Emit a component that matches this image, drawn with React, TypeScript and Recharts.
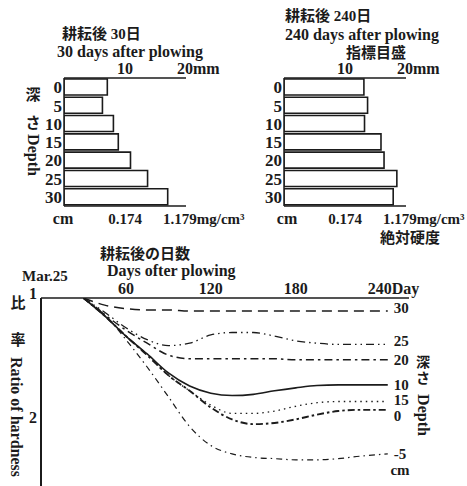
import React from "react";
import { BarChart, Bar, LineChart, Line, XAxis, YAxis } from "recharts";

// penetration (mm) by depth
const depths = ["0", "5", "10", "15", "20", "25", "30"];
const penetration30 = [7.1, 6.3, 8.1, 8.9, 10.9, 13.7, 17.0];
const penetration240 = [13.1, 13.7, 13.2, 15.9, 16.4, 18.5, 17.9];
const scaleTicks = [10, 20];
const scaleTopLabels = ["10", "20mm"];
const scaleBottomLabels = ["0.174", "1.179mg/cm³"];

// ratio of hardness vs days after plowing, one array per depth
const days = [30, 45, 60, 75, 90, 105, 120, 135, 150, 165, 180, 195, 210, 225, 245];
const ratio30 = [1.0, 1.06, 1.09, 1.1, 1.1, 1.11, 1.11, 1.11, 1.11, 1.11, 1.11, 1.11, 1.11, 1.11, 1.11];
const ratio25 = [1.0, 1.12, 1.25, 1.35, 1.4, 1.38, 1.31, 1.29, 1.29, 1.32, 1.36, 1.38, 1.39, 1.39, 1.39];
const ratio20 = [1.0, 1.14, 1.27, 1.38, 1.48, 1.51, 1.51, 1.51, 1.51, 1.51, 1.52, 1.52, 1.52, 1.52, 1.52];
const ratio10 = [1.0, 1.15, 1.32, 1.47, 1.63, 1.74, 1.8, 1.82, 1.81, 1.78, 1.755, 1.735, 1.73, 1.73, 1.73];
const ratio15 = [1.0, 1.15, 1.32, 1.48, 1.65, 1.78, 1.9, 1.97, 1.97, 1.95, 1.91, 1.88, 1.87, 1.87, 1.87];
const ratio0 = [1.0, 1.15, 1.32, 1.48, 1.65, 1.78, 1.92, 2.02, 2.06, 2.05, 2.02, 1.98, 1.95, 1.94, 1.94];
const ratio5 = [1.0, 1.14, 1.35, 1.58, 1.83, 2.08, 2.24, 2.31, 2.34, 2.35, 2.36, 2.36, 2.35, 2.33, 2.31];
const dayTicks = [60, 120, 180, 240];
const dayTickLabels = ["60", "120", "180", "240Day"];
const ratioTicks = [1, 2];

const INK = "#1b1b1b";
const FONT = "'Liberation Serif', 'Noto Sans CJK JP', serif";

const series = [
  { key: "d30", label: "30", values: ratio30, dash: "10 6", width: 1.5, dy: -3 },
  { key: "d25", label: "25", values: ratio25, dash: "8 4 1.5 4 1.5 4", width: 1.3, dy: -3 },
  { key: "d20", label: "20", values: ratio20, dash: "8 4 2.5 4", width: 1.5, dy: 0 },
  { key: "d10", label: "10", values: ratio10, dash: undefined, width: 1.6, dy: 0 },
  { key: "d15", label: "15", values: ratio15, dash: "1.5 4", width: 1.3, dy: -2 },
  { key: "d0", label: "0", values: ratio0, dash: "7 3 2.5 3", width: 1.9, dy: 6 },
  { key: "d5", label: "-5", values: ratio5, dash: "6 4 1.5 4", width: 1.2, dy: 0 },
];

const lineData = days.map((day, i) => {
  const row: Record<string, number> = { day };
  series.forEach((s) => (row[s.key] = s.values[i]));
  return row;
});

const txt = { fontFamily: FONT, fontWeight: 700, fill: INK } as const;

function ScaleTick(labels: string[], dyPx: number, dxLast: number, size: number) {
  return (props: any) => {
    const i = scaleTicks.indexOf(props.payload.value);
    const last = i === scaleTicks.length - 1;
    return (
      <text x={props.x} y={props.y} dy={dyPx} dx={last ? dxLast : 0} textAnchor={last ? "start" : "middle"} fontSize={size} {...txt}>
        {labels[i]}
      </text>
    );
  };
}

const DepthTick = (props: any) => (
  <text x={props.x} y={props.y} dy="0.36em" textAnchor="end" fontSize={17} {...txt}>
    {props.payload.value}
  </text>
);

function DepthBars({ values, left }: { values: number[]; left: number }) {
  const data = depths.map((depth, i) => ({ depth, mm: values[i] }));
  return (
    <div style={{ position: "absolute", left, top: 0 }}>
      <BarChart width={250} height={240} data={data} layout="vertical" margin={{ top: 48, right: 64, bottom: 4, left: 0 }} barCategoryGap={1}>
        <XAxis type="number" xAxisId="top" orientation="top" domain={[0, 20]} ticks={scaleTicks} height={30} allowDataOverflow
          axisLine={{ stroke: INK, strokeWidth: 1.5 }} tickLine={false} tickSize={0} tickMargin={4} tick={ScaleTick(scaleTopLabels, 0, -9, 16)} />
        <XAxis type="number" xAxisId="bottom" orientation="bottom" domain={[0, 20]} ticks={scaleTicks} height={30} allowDataOverflow
          axisLine={{ stroke: INK, strokeWidth: 1.5 }} tickLine={false} tickSize={0} tickMargin={12} tick={ScaleTick(scaleBottomLabels, 6, -23, 15)} />
        <YAxis type="category" dataKey="depth" width={64} axisLine={{ stroke: INK, strokeWidth: 1.5 }} tickLine={false}
          tickSize={0} tickMargin={2} tick={DepthTick} interval={0} />
        <Bar dataKey="mm" xAxisId="top" fill="#fff" stroke={INK} strokeWidth={1.6} isAnimationActive={false} />
      </BarChart>
    </div>
  );
}

const DayTick = (props: any) => {
  const i = dayTicks.indexOf(props.payload.value);
  const last = i === dayTicks.length - 1;
  return (
    <text x={props.x} y={props.y} dx={last ? -13 : 0} textAnchor={last ? "start" : "middle"} fontSize={16} {...txt}>
      {dayTickLabels[i]}
    </text>
  );
};

const RatioTick = (props: any) => (
  <text x={props.x} y={props.y} dy={props.payload.value === 1 ? 1 : 6} textAnchor="end" fontSize={16} {...txt}>
    {props.payload.value}
  </text>
);

function endLabel(text: string, dyPx: number) {
  return (props: any) => {
    if (props.index !== days.length - 1) return null;
    return (
      <text x={props.x + 6} y={props.y} dy={dyPx + 5} fontSize={15} {...txt}>
        {text}
      </text>
    );
  };
}

function HardnessLines() {
  return (
    <div style={{ position: "absolute", left: 0, top: 240 }}>
      <LineChart width={467} height={246} data={lineData} margin={{ top: 38, right: 58, bottom: 0, left: 0 }}>
        <XAxis dataKey="day" type="number" orientation="top" domain={[0, 260]} ticks={dayTicks} height={20}
          axisLine={{ stroke: INK, strokeWidth: 1.5 }} tickLine={false} tickSize={0} tickMargin={4} tick={DayTick} />
        <YAxis type="number" domain={[1, 2.58]} reversed allowDataOverflow ticks={ratioTicks} width={41}
          axisLine={{ stroke: INK, strokeWidth: 2 }} tickLine={false} tickSize={0} tickMargin={4} tick={RatioTick} />
        {series.map((s) => (
          <Line key={s.key} dataKey={s.key} type="monotone" stroke={INK} strokeWidth={s.width} strokeDasharray={s.dash}
            dot={false} isAnimationActive={false} label={endLabel(s.label, s.dy)} />
        ))}
      </LineChart>
    </div>
  );
}

function Annotations() {
  return (
    <svg width={467} height={486} style={{ position: "absolute", left: 0, top: 0, pointerEvents: "none" }}>
      <g {...txt}>
        <text x={62} y={39} fontSize={15}>耕耘後 30日</text>
        <text x={57} y={57} fontSize={16}>30 days after plowing</text>
        <text x={63} y={224} fontSize={16} textAnchor="middle">cm</text>
        <text x={33} y={100} fontSize={15} textAnchor="middle">深</text>
        <text x={33} y={128} fontSize={15} textAnchor="middle">さ</text>
        <text x={33} y={155} fontSize={16} textAnchor="middle" dominantBaseline="central" transform="rotate(90 33 155)">Depth</text>

        <text x={285} y={21} fontSize={15}>耕耘後 240日</text>
        <text x={285} y={40} fontSize={16}>240 days after plowing</text>
        <text x={376} y={58} fontSize={15} textAnchor="middle">指標目盛</text>
        <text x={287} y={224} fontSize={16} textAnchor="middle">cm</text>
        <text x={380} y={243} fontSize={15}>絶対硬度</text>

        <text x={100} y={259} fontSize={15}>耕耘後の日数</text>
        <text x={107} y={276} fontSize={16}>Days ofter plowing</text>
        <text x={22} y={281} fontSize={15}>Mar.25</text>
        <text x={18} y={308} fontSize={15} textAnchor="middle">比</text>
        <text x={18} y={345} fontSize={15} textAnchor="middle">率</text>
        <text x={16} y={417} fontSize={16} textAnchor="middle" dominantBaseline="central" transform="rotate(90 16 417)">Ratio of hardness</text>
        <text x={423} y={367} fontSize={14} textAnchor="middle">深</text>
        <text x={423} y={383} fontSize={14} textAnchor="middle">さ</text>
        <text x={423} y={415} fontSize={16} textAnchor="middle" dominantBaseline="central" transform="rotate(90 423 415)">Depth</text>
        <text x={400} y={475} fontSize={15} textAnchor="middle">cm</text>
      </g>
    </svg>
  );
}

export default function App() {
  return (
    <div style={{ position: "absolute", left: 0, top: 0, width: 467, height: 486, background: "#fff", overflow: "hidden" }}>
      <DepthBars values={penetration30} left={0} />
      <DepthBars values={penetration240} left={220} />
      <HardnessLines />
      <Annotations />
    </div>
  );
}
